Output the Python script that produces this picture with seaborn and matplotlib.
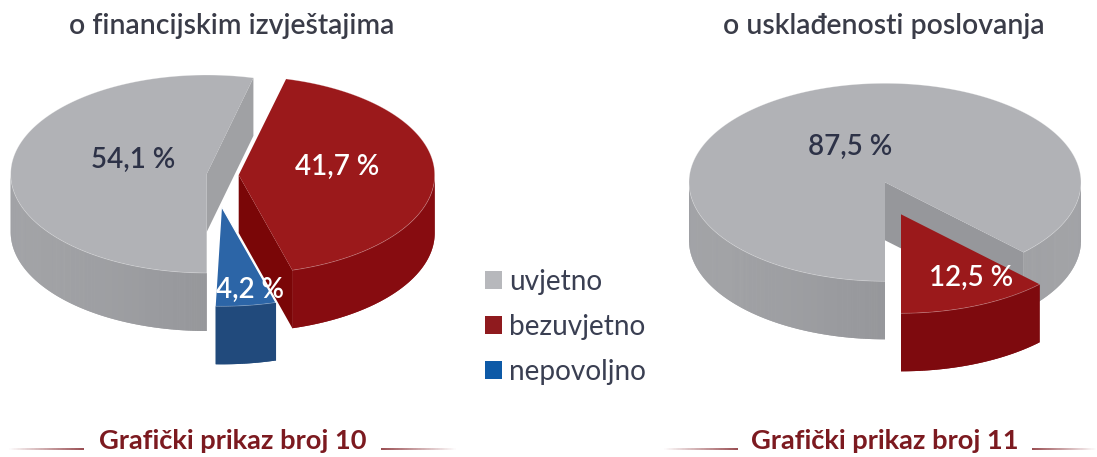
import numpy as np
import matplotlib
import matplotlib.pyplot as plt
import seaborn as sns
from matplotlib.collections import LineCollection, PolyCollection
from matplotlib.patches import Patch

matplotlib.use("Agg")

# podaci
categories = ["uvjetno", "bezuvjetno", "nepovoljno"]
values_10 = [54.1, 41.7, 4.2]
values_11 = [87.5, 12.5]
title_10 = "o financijskim izvještajima"
title_11 = "o usklađenosti poslovanja"
caption_10 = "Grafički prikaz broj 10"
caption_11 = "Grafički prikaz broj 11"

GRAY_TOP = "#b1b2b6"
RED_TOP = "#9b191b"
BLUE_TOP = "#2c65a7"
TEXT_DARK = "#2d3247"
CAPTION = "#7c1a20"
RX, RY, DEPTH = 196, 99, 58

sns.set_theme(style="white")
plt.rcParams["font.family"] = ["Lato", "DejaVu Sans"]


def ellipse(cx, cy, deg):
    rad = np.radians(deg)
    return np.column_stack([cx + RX * np.cos(rad), cy - RY * np.sin(rad)])


def draw_side(ax, cx, cy, t1, t2, side, zorder):
    # vanjski rub za jedan vidljivi luk: puna podloga pa trake s prijelazom
    angles = np.linspace(t1, t2, max(int(t2 - t1) * 2, 8))
    rim = ellipse(cx, cy, angles)
    down = np.array([0, DEPTH])
    ramp = sns.blend_palette(side, 30)
    ax.fill(*np.vstack([rim, rim[::-1] + down]).T, color=ramp[15], lw=0, zorder=zorder)
    strips, colors = [], []
    for i in range(len(angles) - 1):
        mid = (angles[i] + angles[i + 1]) / 2
        strips.append([rim[i], rim[i + 1], rim[i + 1] + down, rim[i] + down])
        colors.append(ramp[int(abs(np.cos(np.radians(mid))) * 29)])
    ax.add_collection(PolyCollection(strips, facecolors=colors, edgecolors="none", zorder=zorder))


def draw_wedge(ax, cx, cy, t1, t2, top, side, cut, zorder):
    # samo prednja polovica ruba se vidi (sinus < 0)
    for lo, hi in [(-180, 0), (180, 360)]:
        a, b = max(t1, lo), min(t2, hi)
        if b > a:
            draw_side(ax, cx, cy, a, b, side, zorder)

    angles = np.linspace(t1, t2, 400)
    rim = ellipse(cx, cy, angles)
    apex = np.array([cx, cy])
    if cut is not None:
        down = np.array([0, DEPTH])
        ax.fill(*np.array([apex, rim[0], rim[0] + down, apex + down]).T, color=cut, lw=0, zorder=zorder + 0.1)
    ax.fill(*np.vstack([apex, rim]).T, color=top, lw=0, zorder=zorder + 0.2)
    ax.plot(*rim.T, color="white", alpha=0.35, lw=0.5, zorder=zorder + 0.3)
    return rim


def pct(value):
    return f"{value:.1f}".replace(".", ",") + " %"


def fading_rule(ax, x_dark, x_light, y):
    xs = np.linspace(x_dark, x_light, 60)
    segs = [[(xs[i], y), (xs[i + 1], y)] for i in range(59)]
    ramp = sns.blend_palette([CAPTION, "#ffffff"], 59)
    ax.add_collection(LineCollection(segs, colors=ramp, linewidths=1.1, zorder=1))


fig = plt.figure(figsize=(10.97, 4.57), dpi=100)
ax = fig.add_axes([0, 0, 1, 1])
ax.set_xlim(0, 1097)
ax.set_ylim(457, 0)
ax.set_axis_off()

# grafikon 10
span = np.array(values_10) * 3.6
draw_wedge(ax, 206.7, 174, 270 - span[0] * 0.995, 270, GRAY_TOP, ["#96979b", "#a6a7aa"], "#a0a1a4", 2)
draw_wedge(ax, 238.7, 175, 76 - span[1], 76, RED_TOP, ["#870c10", "#870c10"], "#7a0607", 3)
blue_rim = draw_wedge(ax, 222, 207.3, -74 - span[2] * 1.18, -74, BLUE_TOP, ["#214a7c", "#214a7c"], None, 4)
ax.plot([222, blue_rim[-1, 0]], [207.3, blue_rim[-1, 1]], color="white", lw=0.9, zorder=4.5)

# grafikon 11
span = np.array(values_11) * 3.6
draw_wedge(ax, 885, 182.3, 270 - span[0], 270, GRAY_TOP, ["#96979b", "#a6a7aa"], "#96979b", 2)
draw_wedge(ax, 901, 214.3, -45 - span[1], -45, RED_TOP, ["#7e0a0e", "#7e0a0e"], None, 3)

# postoci
label_style = dict(ha="center", va="center", fontsize=20, fontweight="semibold", zorder=6)
ax.text(133, 160, pct(values_10[0]), color=TEXT_DARK, **label_style)
ax.text(337, 167, pct(values_10[1]), color="white", **label_style)
ax.text(250, 290, pct(values_10[2]), color="white", **label_style)
ax.text(850, 147, pct(values_11[0]), color=TEXT_DARK, **label_style)
ax.text(971, 278, pct(values_11[1]), color="white", **label_style)

# naslovi
title_style = dict(color="#3a3c48", ha="center", va="center", fontsize=20.4, fontweight="semibold")
ax.text(232, 26, title_10, **title_style)
ax.text(884, 26, title_11, **title_style)

# potpisi
caption_style = dict(color=CAPTION, ha="center", va="center", fontsize=19.6, fontweight="bold")
ax.text(232.5, 441, caption_10, **caption_style)
ax.text(884.5, 441, caption_11, **caption_style)
fading_rule(ax, 84, 8, 449)
fading_rule(ax, 381, 457, 449)
fading_rule(ax, 738, 663, 449)
fading_rule(ax, 1032, 1097, 449)

# legenda
handles = [Patch(color=c, lw=0) for c in ["#b7b8bc", "#8f1a1e", "#0d5aa7"]]
ax.legend(
    handles, categories, loc="upper left", bbox_to_anchor=(485 / 1097, 1 - 269 / 457),
    frameon=False, fontsize=20.2, labelcolor="#3a3f52", handlelength=0.6, handleheight=0.6,
    handletextpad=0.25, labelspacing=0.68, borderpad=0, borderaxespad=0,
)

plt.savefig("out.png", dpi=100)
